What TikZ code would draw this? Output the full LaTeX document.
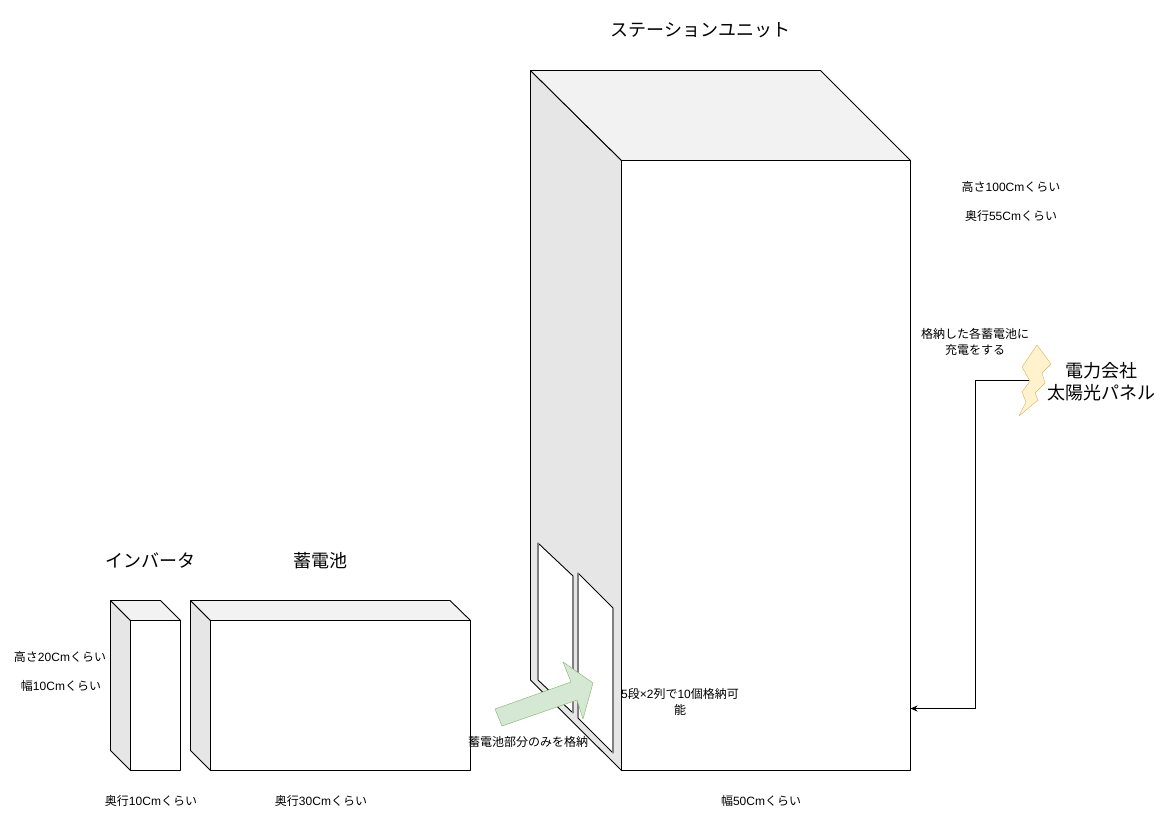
\documentclass[tikz,border=0pt]{standalone}
\usepackage{fontspec}
\setmainfont{Noto Sans CJK JP}
\newfontfamily\latinfont{Liberation Sans}
\usetikzlibrary{arrows.meta}
\definecolor{sidegray}{HTML}{E6E6E6}
\definecolor{topgray}{HTML}{F2F2F2}
\definecolor{arrowfill}{HTML}{D5E8D4}
\definecolor{arrowline}{HTML}{82B366}
\definecolor{boltfill}{HTML}{FFF2CC}
\definecolor{boltline}{HTML}{D6B656}
\tikzset{
  edge/.style={draw=black,line width=0.9pt,line join=round},
  sideface/.style={edge,fill=sidegray},
  topface/.style={edge,fill=topgray},
  frontface/.style={edge,fill=white},
  slot/.style={edge,fill=white},
  slotside/.style={draw=gray,line width=1.5pt},
  title/.style={inner sep=0pt,font=\fontsize{18}{22}\selectfont},
  note/.style={inner sep=0pt,align=center,font=\fontsize{12}{16}\selectfont},
}
\newcommand{\lt}[1]{{\latinfont #1}}
\begin{document}
\begin{tikzpicture}[x=1pt,y=-1pt]
\useasboundingbox[fill=white] (0,0) rectangle (1161,831);
% station
\draw[sideface] (530.5,70.5) -- (621.5,160.5) -- (621.5,770.5) -- (530.5,680) -- cycle;
\draw[topface] (530.5,70.5) -- (820.5,70.5) -- (910.5,160.5) -- (621.5,160.5) -- cycle;
\draw[frontface] (621.5,160.5) rectangle (910.5,770.5);
\draw[slot] (538,543) -- (573,576) -- (573,713) -- (538,680) -- cycle;
\draw[slotside] (538,543) -- (538,680) (573,576) -- (573,713);
\draw[slot] (578,573) -- (613,608) -- (613,753) -- (578,718) -- cycle;
\draw[slotside] (578,573) -- (578,718) (613,608) -- (613,753);
% inverter
\draw[sideface] (110.5,600.5) -- (130.5,620.5) -- (130.5,770.5) -- (110.5,750.5) -- cycle;
\draw[topface] (110.5,600.5) -- (160.5,600.5) -- (180.5,620.5) -- (130.5,620.5) -- cycle;
\draw[frontface] (130.5,620.5) rectangle (180.5,770.5);
% battery
\draw[sideface] (190.5,600.5) -- (210.5,620.5) -- (210.5,770.5) -- (190.5,750.5) -- cycle;
\draw[topface] (190.5,600.5) -- (450,600.5) -- (470.5,620.5) -- (210.5,620.5) -- cycle;
\draw[frontface] (210.5,620.5) rectangle (470.5,770.5);
% arrow
\draw[draw=arrowline,fill=arrowfill,line join=round] (495,709) -- (571,682) -- (563,662) -- (593,683) -- (583,719) -- (577,700) -- (502,726) -- cycle;
% bolt
\draw[draw=boltline,fill=boltfill,line join=round] (1037,345) -- (1051,364) -- (1042,373) -- (1045,383) -- (1035,393) -- (1038,400) -- (1019,416) -- (1026,402) -- (1022,392) -- (1030,381) -- (1022,367) -- cycle;
% feed
\coordinate (boltend) at (1029,380.5);
\coordinate (feedcorner) at (975.5,380.5);
\coordinate (feeddrop) at (975.5,708.5);
\coordinate (stationin) at (910.5,708.5);
\draw[line width=0.8pt,-{Stealth[length=7pt,width=6pt]}] (boltend) -- (feedcorner) -- (feeddrop) -- (stationin);
% text
\node[title] (stationlabel) at (700.5,30.5) {ステーションユニット};
\node[title] (inverterlabel) at (150,560.5) {インバータ};
\node[title] (batterylabel) at (320.5,560.5) {蓄電池};
\node[title,align=center] (powerlabel) at (1101,381.5) {電力会社\\太陽光パネル};
\node[note] (heightlabel) at (1011,186.5) {高さ\lt{100Cm}くらい};
\node[note] (depthlabel) at (1011,215.5) {奥行\lt{55Cm}くらい};
\node[note] (chargelabel) at (975,341.5) {格納した各蓄電池に\\充電をする};
\node[note] (slotlabel) at (680,701.5) {\lt{5}段\lt{×2}列で\lt{10}個格納可\\能};
\node[note] (onlylabel) at (528,741.5) {蓄電池部分のみを格納};
\node[note] (invheightlabel) at (60,656.5) {高さ\lt{20Cm}くらい};
\node[note] (invwidthlabel) at (61,685.5) {幅\lt{10Cm}くらい};
\node[note] (invdepthlabel) at (151,800.5) {奥行\lt{10Cm}くらい};
\node[note] (batdepthlabel) at (321,800.5) {奥行\lt{30Cm}くらい};
\node[note] (stationwidthlabel) at (761,800.5) {幅\lt{50Cm}くらい};
\end{tikzpicture}
\end{document}
